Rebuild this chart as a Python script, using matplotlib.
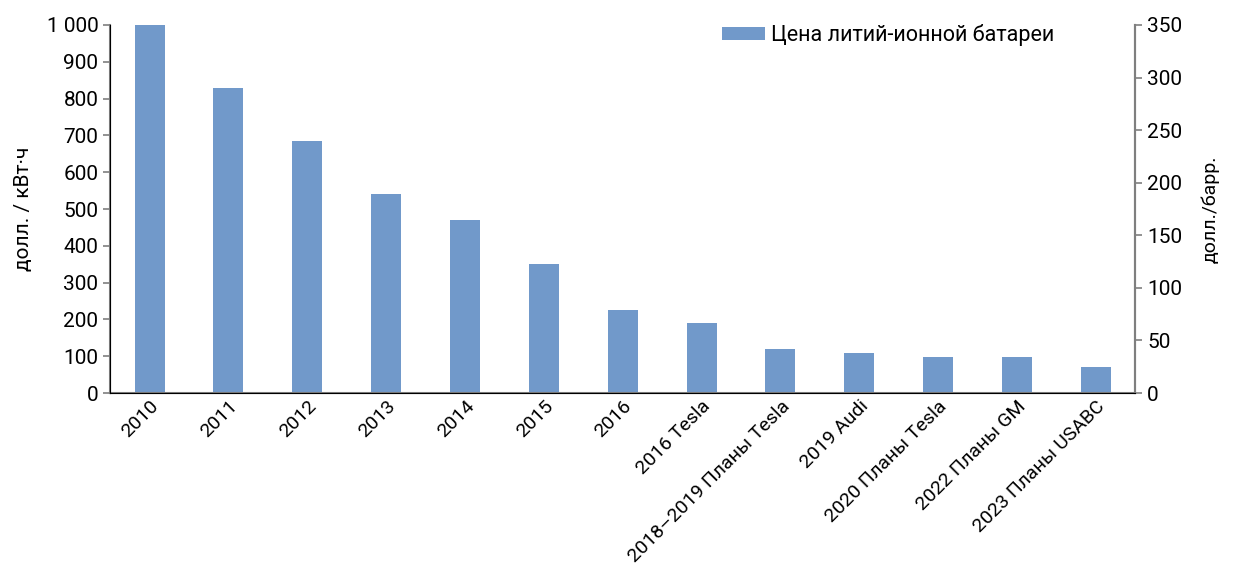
import matplotlib
matplotlib.use("Agg")
import matplotlib.pyplot as plt
from matplotlib.ticker import FuncFormatter, MultipleLocator

plt.rcParams['font.family'] = ['Roboto', 'DejaVu Sans']

labels = ['2010', '2011', '2012', '2013', '2014', '2015', '2016', '2016 Tesla',
          '2018–2019 Планы Tesla', '2019 Audi', '2020 Планы Tesla',
          '2022 Планы GM', '2023 Планы USABC']
prices = [1000, 830, 685, 540, 470, 350, 225, 190, 120, 108, 98, 98, 72]

bar_color = '#7199CA'
axis_color = '#7f7f7f'

fig = plt.figure(figsize=(12.38, 5.68), dpi=100)
ax = fig.add_axes([0.089, 0.308, 0.828, 0.648])

x = range(len(labels))
ax.bar(x, prices, width=0.38, color=bar_color, label='Цена литий-ионной батареи')
ax.set_xlim(-0.5, len(labels) - 0.5)
ax.set_ylim(0, 1000)
ax.yaxis.set_major_locator(MultipleLocator(100))
ax.yaxis.set_major_formatter(FuncFormatter(lambda v, p: f'{int(v):,}'.replace(',', ' ')))
ax.set_xticks(list(x))
ax.set_xticklabels(labels, rotation=45, ha='right', rotation_mode='anchor', fontsize=14)
ax.tick_params(axis='x', length=0, pad=3)
ax.tick_params(axis='y', labelsize=15, color=axis_color, length=5, width=1.2)
ax.set_ylabel('долл. / кВт·ч', fontsize=15, labelpad=10)

ax.spines['top'].set_visible(False)
for s in ['left', 'bottom', 'right']:
    ax.spines[s].set_color(axis_color)
    ax.spines[s].set_linewidth(1.5)

ax2 = ax.twinx()
ax2.set_ylim(0, 350)
ax2.yaxis.set_major_locator(MultipleLocator(50))
ax2.tick_params(axis='y', labelsize=15, color=axis_color, length=5, width=1.2)
ax2.set_ylabel('долл./барр.', fontsize=14, labelpad=14)
ax2.spines['top'].set_visible(False)
ax2.spines['right'].set_color(axis_color)
ax2.spines['right'].set_linewidth(1.5)

ax.legend(loc='upper right', bbox_to_anchor=(0.94, 1.055), frameon=False, fontsize=15.5,
          handlelength=2.0, handleheight=0.5, handletextpad=0.3)

fig.savefig('out.png', dpi=100)
